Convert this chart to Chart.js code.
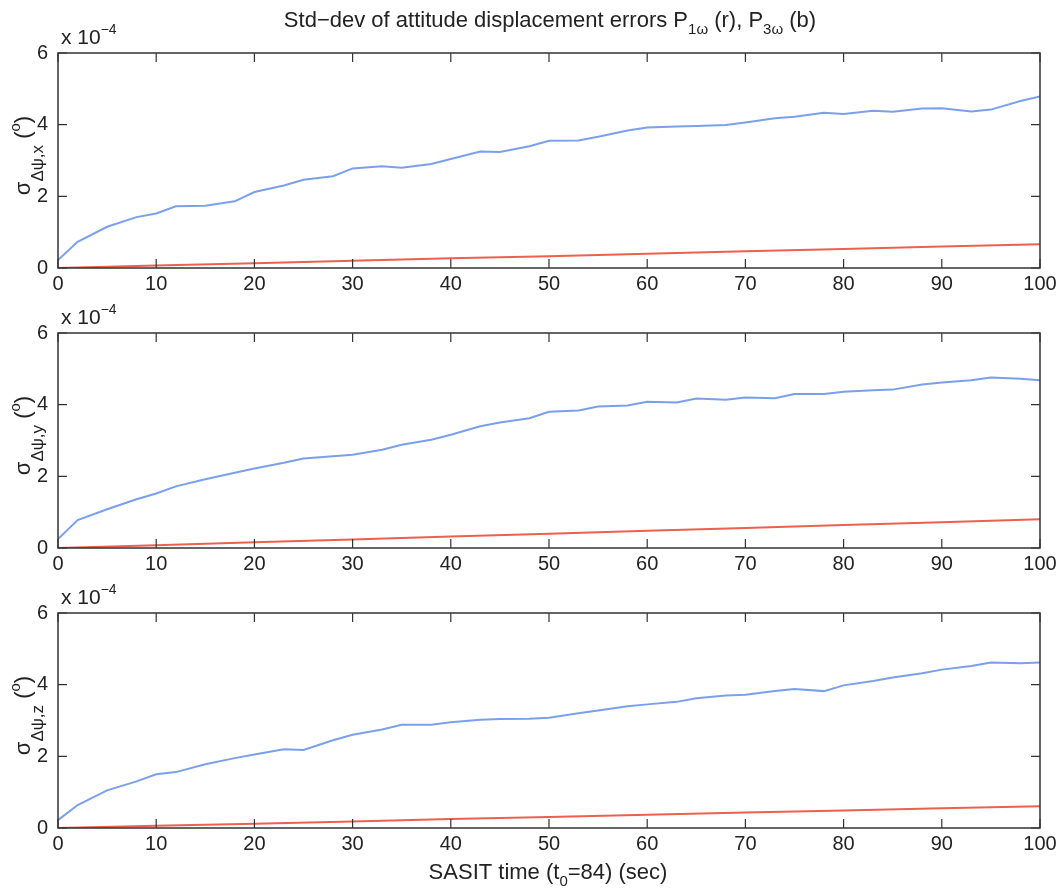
<!DOCTYPE html>
<html>
<head>
<meta charset="utf-8">
<script src="https://cdn.jsdelivr.net/npm/chart.js@4"></script>
<style>
  body { margin: 0; background: #fff; }
  #wrap { position: relative; width: 1062px; height: 894px; overflow: hidden; }
  canvas { position: absolute; left: 0; }
</style>
</head>
<body>
<div id="wrap">
  <canvas id="c1" width="1062" height="320" style="top:0px"></canvas>
  <canvas id="c2" width="1062" height="320" style="top:280px"></canvas>
  <canvas id="c3" width="1062" height="334" style="top:560px"></canvas>
</div>
<script>
// time samples (sec) for the P3w (blue) curves
const time = [0, 2, 5, 8, 10, 12, 15, 18, 20, 23, 25, 28, 30, 33, 35, 38, 40, 43, 45, 48, 50,
              53, 55, 58, 60, 63, 65, 68, 70, 73, 75, 78, 80, 83, 85, 88, 90, 93, 95, 98, 100];
// values in units of 1e-4 deg
const blueX = [0.22, 0.73, 1.15, 1.42, 1.52, 1.72, 1.74, 1.86, 2.12, 2.30, 2.46, 2.56, 2.78, 2.84, 2.80, 2.90, 3.04, 3.25, 3.24, 3.40, 3.55,
               3.56, 3.66, 3.84, 3.92, 3.95, 3.96, 3.99, 4.06, 4.18, 4.22, 4.33, 4.30, 4.39, 4.36, 4.45, 4.46, 4.37, 4.42, 4.66, 4.79];
const blueY = [0.25, 0.78, 1.08, 1.36, 1.52, 1.72, 1.92, 2.10, 2.22, 2.38, 2.50, 2.56, 2.60, 2.74, 2.88, 3.02, 3.16, 3.40, 3.50, 3.62, 3.80,
               3.84, 3.95, 3.98, 4.08, 4.06, 4.17, 4.14, 4.20, 4.18, 4.30, 4.30, 4.36, 4.40, 4.42, 4.56, 4.62, 4.68, 4.76, 4.72, 4.68];
const blueZ = [0.22, 0.64, 1.05, 1.30, 1.50, 1.56, 1.78, 1.95, 2.05, 2.20, 2.18, 2.45, 2.60, 2.75, 2.88, 2.88, 2.95, 3.02, 3.04, 3.05, 3.08,
               3.20, 3.28, 3.40, 3.45, 3.52, 3.62, 3.70, 3.72, 3.82, 3.88, 3.82, 3.98, 4.10, 4.20, 4.32, 4.42, 4.52, 4.62, 4.60, 4.62];

// P1w (red) curves
const redTime = [0, 10, 20, 30, 40, 50, 60, 70, 80, 90, 100];
const redX = [0, 0.07, 0.13, 0.20, 0.27, 0.33, 0.40, 0.47, 0.53, 0.60, 0.66];
const redY = [0, 0.08, 0.16, 0.24, 0.32, 0.40, 0.48, 0.56, 0.64, 0.72, 0.80];
const redZ = [0, 0.06, 0.12, 0.18, 0.25, 0.31, 0.37, 0.43, 0.49, 0.55, 0.61];

const FONT = '"Liberation Sans", Arial, Helvetica, sans-serif';
const INK = '#222';

function pts(xs, ys) {
  return xs.map((x, i) => ({ x: x, y: ys[i] }));
}

// draws text made of pieces with their own size / vertical offset
function drawParts(ctx, parts, x, y, align) {
  let w = 0;
  parts.forEach(p => { ctx.font = p.size + 'px ' + FONT; w += ctx.measureText(p.t).width; });
  let cx = align === 'center' ? x - w / 2 : x;
  ctx.textAlign = 'left';
  ctx.textBaseline = 'alphabetic';
  parts.forEach(p => {
    ctx.font = p.size + 'px ' + FONT;
    ctx.fillText(p.t, cx, y + (p.dy || 0));
    cx += ctx.measureText(p.t).width;
  });
}

// box + inward ticks, axis label, exponent
const matlabAxes = {
  id: 'matlabAxes',
  afterDraw(chart, args, opts) {
    const ctx = chart.ctx;
    const a = chart.chartArea;
    const xs = chart.scales.x, ys = chart.scales.y;
    ctx.save();
    ctx.strokeStyle = '#333';
    ctx.lineWidth = 1.5;
    ctx.strokeRect(a.left, a.top, a.right - a.left, a.bottom - a.top);
    ctx.lineWidth = 1.2;
    ctx.beginPath();
    xs.ticks.forEach(t => {
      const px = xs.getPixelForValue(t.value);
      ctx.moveTo(px, a.bottom); ctx.lineTo(px, a.bottom - 9);
      ctx.moveTo(px, a.top); ctx.lineTo(px, a.top + 9);
    });
    ys.ticks.forEach(t => {
      const py = ys.getPixelForValue(t.value);
      ctx.moveTo(a.left, py); ctx.lineTo(a.left + 9, py);
      ctx.moveTo(a.right, py); ctx.lineTo(a.right - 9, py);
    });
    ctx.stroke();

    ctx.fillStyle = INK;
    // exponent
    drawParts(ctx, [{ t: 'x 10', size: 21 }, { t: '\u22124', size: 14, dy: -10 }], a.left + 3, a.top - 9, 'left');

    // y label
    ctx.translate(30, (a.top + a.bottom) / 2 - 5);
    ctx.rotate(-Math.PI / 2);
    drawParts(ctx, [
      { t: '\u03c3', size: 22 },
      { t: '\u0394\u03c8,' + opts.comp, size: 17, dy: 13 },
      { t: ' (', size: 22 },
      { t: 'o', size: 15, dy: -10 },
      { t: ')', size: 22 }
    ], 0, 0, 'center');
    ctx.restore();

    if (opts.title) {
      ctx.save();
      ctx.fillStyle = INK;
      drawParts(ctx, [
        { t: 'Std\u2212dev of attitude displacement errors P', size: 22 },
        { t: '1\u03c9', size: 15, dy: 7 },
        { t: ' (r), P', size: 22 },
        { t: '3\u03c9', size: 15, dy: 7 },
        { t: ' (b)', size: 22 }
      ], 550, 27, 'center');
      ctx.restore();
    }
    if (opts.xlabel) {
      ctx.save();
      ctx.fillStyle = INK;
      drawParts(ctx, [
        { t: 'SASIT time (t', size: 22 },
        { t: '0', size: 15, dy: 7 },
        { t: '=84) (sec)', size: 22 }
      ], 548, a.bottom + 51, 'center');
      ctx.restore();
    }
  }
};

const panels = [
  { id: 'c1', comp: 'x', blue: blueX, red: redX, title: true, xlabel: false, axisH: 52 },
  { id: 'c2', comp: 'y', blue: blueY, red: redY, title: false, xlabel: false, axisH: 52 },
  { id: 'c3', comp: 'z', blue: blueZ, red: redZ, title: false, xlabel: true, axisH: 66 }
];

panels.forEach(p => {
  new Chart(document.getElementById(p.id), {
    type: 'line',
    data: {
      datasets: [
        { data: pts(time, p.blue), borderColor: 'rgb(122,160,236)', borderWidth: 2 },
        { data: pts(redTime, p.red), borderColor: 'rgb(236,96,78)', borderWidth: 2 }
      ]
    },
    options: {
      responsive: false,
      animation: false,
      devicePixelRatio: 1,
      layout: { padding: { top: 53, right: 22, left: 0, bottom: 0 } },
      elements: { point: { radius: 0 }, line: { tension: 0 } },
      plugins: {
        legend: { display: false },
        tooltip: { enabled: false },
        matlabAxes: { comp: p.comp, title: p.title, xlabel: p.xlabel }
      },
      scales: {
        x: {
          type: 'linear', min: 0, max: 100,
          grid: { display: false, drawTicks: false }, border: { display: false },
          ticks: { stepSize: 10, padding: 4, color: INK, font: { family: FONT, size: 20 } },
          afterFit(s) { s.height = p.axisH; }
        },
        y: {
          min: 0, max: 6,
          grid: { display: false, drawTicks: false }, border: { display: false },
          ticks: { stepSize: 2, padding: 10, color: INK, font: { family: FONT, size: 20 } },
          afterFit(s) { s.width = 58; }
        }
      }
    },
    plugins: [matlabAxes]
  });
});
</script>
</body>
</html>
